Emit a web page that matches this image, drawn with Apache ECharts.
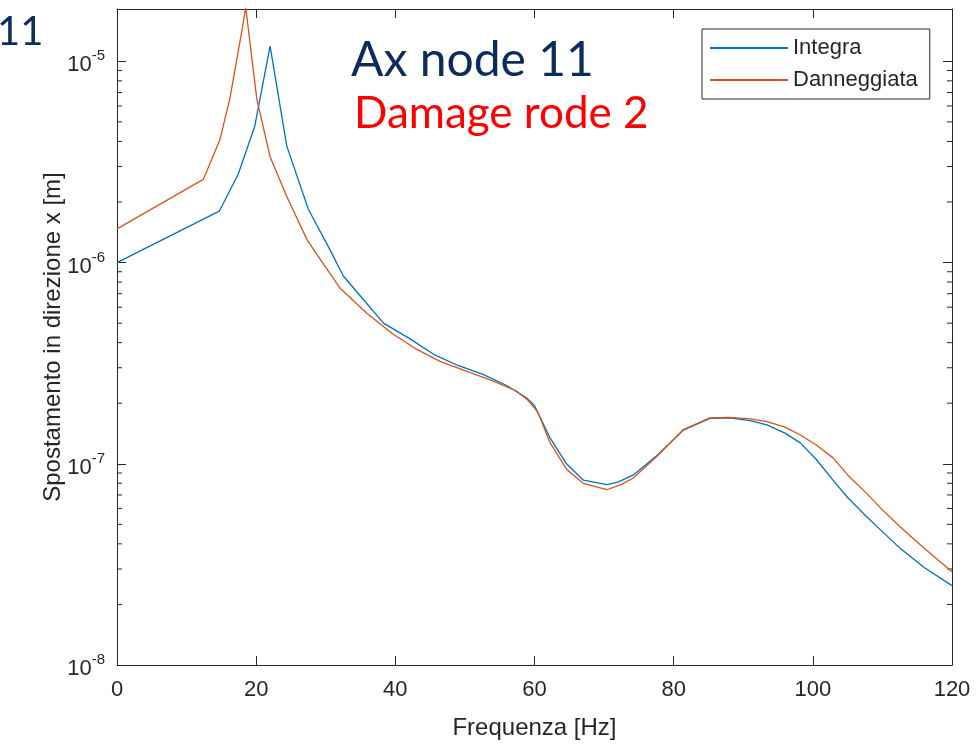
<!DOCTYPE html>
<html>
<head>
<meta charset="utf-8">
<script src="https://cdn.jsdelivr.net/npm/echarts@6/dist/echarts.min.js"></script>
<style>html,body{margin:0;padding:0;background:#fff}#c{width:980px;height:747px}</style>
</head>
<body>
<div id="c"></div>
<script>
// ---- data ----
const freqIntegra = [0, 14.7, 17.4, 19.8, 22.0, 24.4, 27.5, 30.6, 32.5, 35, 38.3, 42, 45.5, 49, 52.6, 56, 58.9, 60, 62.2, 64.6, 67, 70.4, 72, 74.2, 77.6, 81.4, 85.2, 88, 91, 93.4, 96, 98.2, 100.5, 102.9, 105, 107.7, 110, 112.5, 116, 120];
const valIntegra = [1.0e-6, 1.80e-6, 2.74e-6, 4.76e-6, 1.19e-5, 3.79e-6, 1.84e-6, 1.16e-6, 8.6e-7, 6.8e-7, 5.0e-7, 4.2e-7, 3.5e-7, 3.08e-7, 2.78e-7, 2.45e-7, 2.12e-7, 1.95e-7, 1.35e-7, 1.0e-7, 8.3e-8, 7.87e-8, 8.1e-8, 8.8e-8, 1.1e-7, 1.47e-7, 1.68e-7, 1.69e-7, 1.64e-7, 1.56e-7, 1.42e-7, 1.27e-7, 1.05e-7, 8.3e-8, 6.8e-8, 5.47e-8, 4.6e-8, 3.81e-8, 3.05e-8, 2.48e-8];

const freqDanneggiata = [0, 12.4, 14.8, 16.2, 17.9, 18.5, 20.1, 22.0, 24.4, 27.3, 29.7, 32, 35.9, 39.5, 43.1, 46.5, 50.3, 54, 57.4, 59, 60.5, 62.2, 64.6, 67, 70.4, 72.5, 74.2, 77.6, 81.4, 85.2, 88, 91, 93.4, 96, 98.2, 100.5, 102.9, 105, 107.7, 110, 112.5, 116, 120];
const valDanneggiata = [1.47e-6, 2.59e-6, 4.09e-6, 6.47e-6, 1.39e-5, 1.85e-5, 6.47e-6, 3.36e-6, 2.13e-6, 1.30e-6, 9.8e-7, 7.5e-7, 5.6e-7, 4.45e-7, 3.7e-7, 3.22e-7, 2.88e-7, 2.58e-7, 2.3e-7, 2.08e-7, 1.8e-7, 1.28e-7, 9.4e-8, 8.0e-8, 7.43e-8, 7.9e-8, 8.5e-8, 1.09e-7, 1.48e-7, 1.69e-7, 1.70e-7, 1.67e-7, 1.62e-7, 1.52e-7, 1.39e-7, 1.24e-7, 1.07e-7, 8.8e-8, 7.15e-8, 5.9e-8, 4.88e-8, 3.8e-8, 2.91e-8];

const seriesNames = ['Integra', 'Danneggiata'];
const xTickValues = [0, 20, 40, 60, 80, 100, 120];
const yDecadeExponents = [-8, -7, -6, -5];
const xRange = [0, 120];
const yRange = [1e-8, 1.82e-5];

// minor log ticks: 2..9 x each decade
const minorTicks = [];
yDecadeExponents.forEach(function (e) {
  for (let m = 2; m <= 9; m++) {
    const v = m * Math.pow(10, e);
    if (v < yRange[1]) minorTicks.push(v);
  }
});

const axisColor = '#262626';
const FONT = 'Liberation Sans, Arial, sans-serif';

function zip(xs, ys) { return xs.map(function (x, i) { return [x, ys[i]]; }); }

function logLabel(v) {
  const l = Math.log10(v);
  const e = Math.round(l);
  if (Math.abs(l - e) > 1e-6 || yDecadeExponents.indexOf(e) < 0) return '';
  return '{b|10}{s|' + e + '}';
}

const chart = echarts.init(document.getElementById('c'), null, { renderer: 'canvas' });
chart.setOption({
  backgroundColor: '#ffffff',
  animation: false,
  grid: { left: 117, right: 28, top: 9, bottom: 82, containLabel: false },
  legend: {
    data: seriesNames,
    orient: 'vertical',
    left: 702, top: 29,
    itemWidth: 78, itemHeight: 2, itemGap: 6,
    padding: [6, 12, 6, 7],
    borderColor: axisColor, borderWidth: 1,
    backgroundColor: '#ffffff',
    textStyle: { fontFamily: FONT, fontSize: 22, color: axisColor, lineHeight: 26 }
  },
  xAxis: [{
    type: 'value', min: xRange[0], max: xRange[1], interval: 20,
    name: 'Frequenza [Hz]', nameLocation: 'middle', nameGap: 51,
    nameTextStyle: { fontFamily: FONT, fontSize: 24, color: axisColor },
    axisLine: { show: true, onZero: false, lineStyle: { color: axisColor, width: 1 } },
    axisTick: { show: true, inside: true, length: 9, lineStyle: { color: axisColor } },
    axisLabel: { fontFamily: FONT, fontSize: 22, color: axisColor, margin: 14,
      formatter: function (v) { return xTickValues.indexOf(v) >= 0 ? String(v) : ''; } },
    splitLine: { show: false }
  }, {
    type: 'value', min: xRange[0], max: xRange[1], interval: 20, position: 'top',
    axisLine: { show: true, onZero: false, lineStyle: { color: axisColor, width: 1 } },
    axisTick: { show: true, inside: true, length: 9, lineStyle: { color: axisColor } },
    axisLabel: { show: false }, splitLine: { show: false }
  }],
  yAxis: [{
    type: 'log', logBase: 10, min: yRange[0], max: yRange[1],
    name: 'Spostamento in direzione x [m]', nameLocation: 'middle', nameGap: 52,
    nameMoveOverlap: false,
    nameTextStyle: { fontFamily: FONT, fontSize: 24, color: axisColor },
    axisLine: { show: true, onZero: false, lineStyle: { color: axisColor, width: 1 } },
    axisTick: { show: true, inside: true, length: 9, lineStyle: { color: axisColor } },
    axisLabel: { showMaxLabel: false, margin: 12, formatter: logLabel,
      rich: {
        b: { fontFamily: FONT, fontSize: 22, color: axisColor, padding: [8, 0, 0, 0] },
        s: { fontFamily: FONT, fontSize: 15, color: axisColor, padding: [0, 0, 10, 0] }
      } },
    splitLine: { show: false }
  }, {
    type: 'log', logBase: 10, min: yRange[0], max: yRange[1], position: 'right',
    axisLine: { show: true, onZero: false, lineStyle: { color: axisColor, width: 1 } },
    axisTick: { show: true, inside: true, length: 9, lineStyle: { color: axisColor } },
    axisLabel: { show: false }, splitLine: { show: false }
  }],
  series: [{
    name: seriesNames[0], type: 'line', data: zip(freqIntegra, valIntegra),
    symbol: 'none', color: '#0072BD', lineStyle: { width: 1.3, color: '#0072BD' }, z: 3
  }, {
    name: seriesNames[1], type: 'line', data: zip(freqDanneggiata, valDanneggiata),
    symbol: 'none', color: '#D95319', lineStyle: { width: 1.3, color: '#D95319' }, z: 4
  }, {
    name: 'minorTicks', type: 'custom', silent: true, z: 2,
    data: minorTicks.map(function (v) { return [xRange[0], v]; }),
    renderItem: function (params, api) {
      const v = api.value(1);
      const pL = api.coord([xRange[0], v]);
      const pR = api.coord([xRange[1], v]);
      const st = { stroke: axisColor, lineWidth: 1 };
      return { type: 'group', children: [
        { type: 'line', shape: { x1: pL[0], y1: pL[1], x2: pL[0] + 5, y2: pL[1] }, style: st },
        { type: 'line', shape: { x1: pR[0], y1: pR[1], x2: pR[0] - 5, y2: pR[1] }, style: st }
      ] };
    }
  }],
  graphic: [
    { type: 'text', left: -3, top: 12, style: { text: '11', font: '40px Lato, sans-serif', fill: '#0b2d5e' } },
    { type: 'text', left: 351, top: 37, style: { text: 'Ax node 11', font: '48px Lato, sans-serif', fill: '#0b2d5e' } },
    { type: 'text', left: 354, top: 92, style: { text: 'Damage rode 2', font: '44px Lato, sans-serif', fill: '#ff0000' } }
  ]
});
</script>
</body>
</html>
